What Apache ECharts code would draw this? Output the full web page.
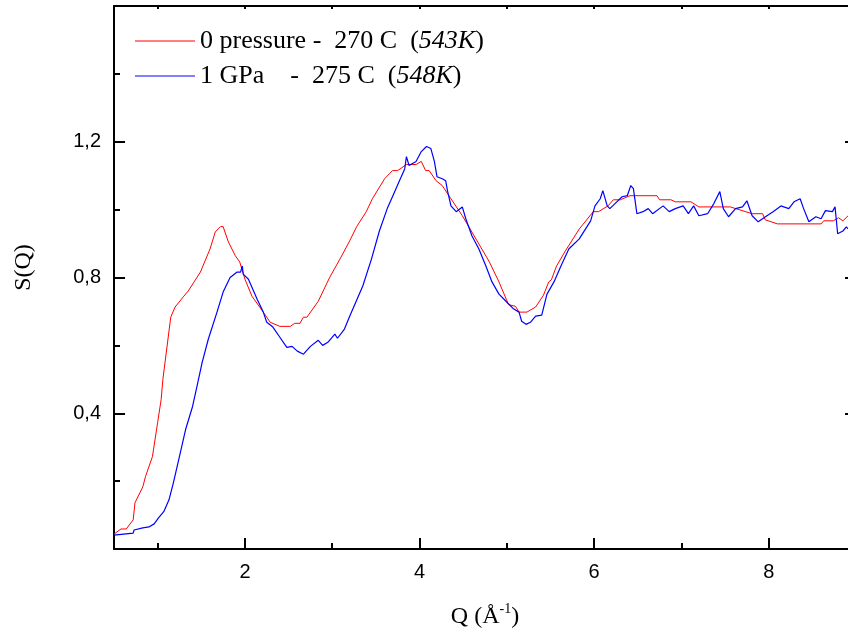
<!DOCTYPE html>
<html>
<head>
<meta charset="utf-8">
<script src="https://cdn.jsdelivr.net/npm/echarts@6/dist/echarts.min.js"></script>
<style>html,body{margin:0;padding:0;background:#fff;}#c{width:848px;height:636px;}</style>
</head>
<body>
<div id="c"></div>
<script>
const seriesNames = ['0 pressure -  270 C  (543K)', '1 GPa    -  275 C  (548K)'];
const legendRich = ['0 pressure -  270 C  ({i|543K})', '1 GPa    -  275 C  ({i|548K})'];

const qRed = [0.5,0.58,0.64,0.72,0.74,0.83,0.86,0.94,1.0,1.04,1.06,1.15,1.2,1.3,1.35,1.49,1.6,1.66,1.72,1.75,1.81,1.89,1.94,2.0,2.08,2.21,2.29,2.4,2.52,2.57,2.63,2.67,2.71,2.84,2.97,3.09,3.2,3.28,3.39,3.46,3.6,3.69,3.75,3.85,3.96,4.02,4.07,4.11,4.19,4.26,4.36,4.49,4.6,4.7,4.8,4.91,5.02,5.1,5.14,5.23,5.33,5.42,5.48,5.51,5.57,5.67,5.83,5.99,6.05,6.16,6.22,6.3,6.41,6.72,6.75,6.88,6.93,7.11,7.2,7.56,7.81,7.93,7.96,8.1,8.6,8.63,8.74,8.8,8.85,8.91,9.0];
const sRed = [0.044,0.059,0.059,0.086,0.136,0.183,0.213,0.272,0.373,0.44,0.5,0.683,0.713,0.745,0.76,0.816,0.884,0.934,0.95,0.95,0.905,0.864,0.846,0.795,0.745,0.698,0.668,0.656,0.656,0.665,0.665,0.683,0.683,0.73,0.8,0.855,0.908,0.95,0.994,1.032,1.091,1.115,1.115,1.133,1.133,1.142,1.115,1.115,1.085,1.071,1.032,0.982,0.934,0.89,0.846,0.787,0.72,0.715,0.698,0.698,0.713,0.748,0.787,0.793,0.834,0.878,0.943,0.994,0.994,1.011,1.029,1.029,1.041,1.041,1.029,1.029,1.023,1.023,1.008,1.008,0.988,0.988,0.97,0.958,0.958,0.967,0.967,0.976,0.967,0.982,0.985];

const qBlue = [0.5,0.72,0.73,0.83,0.9,0.96,1.01,1.07,1.13,1.18,1.26,1.32,1.4,1.46,1.51,1.58,1.68,1.75,1.83,1.91,1.95,1.97,1.98,2.04,2.14,2.21,2.25,2.32,2.4,2.48,2.54,2.6,2.67,2.75,2.84,2.89,2.95,3.03,3.06,3.14,3.2,3.35,3.45,3.54,3.63,3.69,3.77,3.83,3.85,3.88,3.96,4.02,4.08,4.13,4.17,4.2,4.26,4.3,4.32,4.36,4.42,4.49,4.53,4.6,4.68,4.76,4.83,4.91,4.99,5.08,5.14,5.17,5.22,5.27,5.33,5.4,5.46,5.54,5.62,5.71,5.83,5.96,6.01,6.07,6.1,6.15,6.18,6.26,6.32,6.38,6.42,6.45,6.49,6.56,6.62,6.67,6.79,6.86,6.93,7.02,7.08,7.14,7.2,7.3,7.37,7.44,7.48,7.54,7.62,7.7,7.75,7.81,7.88,7.98,8.05,8.14,8.23,8.29,8.36,8.4,8.46,8.54,8.6,8.65,8.73,8.76,8.79,8.85,8.89,8.91,9.0];
const sBlue = [0.041,0.047,0.056,0.062,0.065,0.074,0.092,0.11,0.145,0.195,0.284,0.352,0.42,0.49,0.55,0.618,0.698,0.757,0.8,0.816,0.816,0.834,0.81,0.795,0.736,0.698,0.668,0.654,0.624,0.594,0.597,0.583,0.574,0.597,0.615,0.6,0.609,0.633,0.621,0.648,0.686,0.775,0.855,0.937,1.003,1.038,1.085,1.12,1.156,1.13,1.142,1.171,1.186,1.18,1.142,1.097,1.091,1.085,1.056,1.011,0.994,1.008,0.973,0.923,0.884,0.834,0.787,0.751,0.73,0.707,0.698,0.671,0.662,0.668,0.686,0.689,0.751,0.787,0.834,0.884,0.914,0.967,1.011,1.032,1.056,1.011,1.003,1.023,1.038,1.041,1.071,1.062,0.988,0.994,1.003,0.988,1.011,0.994,1.003,1.011,0.988,1.011,0.982,0.988,1.017,1.053,1.003,0.979,1.003,1.008,1.026,0.982,0.964,0.982,0.994,1.011,1.003,1.023,1.032,1.003,0.964,0.979,0.973,0.997,0.994,1.008,0.929,0.937,0.949,0.943,0.95];

const xTickLabels = ['2','4','6','8'];
const yTickLabels = ['0,4','0,8','1,2'];

const zip = (a, b) => a.map((v, i) => [v, b[i]]);

const serif = 'Liberation Serif';
const sans = 'Liberation Sans';

const chart = echarts.init(document.getElementById('c'), null, {renderer: 'canvas'});
const axisLine = {show: true, onZero: false, lineStyle: {color: '#000', width: 2}};

chart.setOption({
  animation: false,
  backgroundColor: '#fff',
  grid: {left: 114, top: 6, width: 742, height: 543, containLabel: false, outerBoundsMode: 'none'},
  legend: {
    orient: 'vertical', left: 135, top: 27, padding: 0, itemWidth: 60, itemHeight: 1, itemGap: 7,
    icon: 'rect',
    data: seriesNames,
    formatter: function (name) { return legendRich[seriesNames.indexOf(name)]; },
    textStyle: {fontFamily: serif, fontSize: 26, color: '#000', lineHeight: 28,
      rich: {i: {fontFamily: serif, fontSize: 26, fontStyle: 'italic', color: '#000'}}}
  },
  xAxis: [{
    type: 'value', min: 0.5, max: 9, splitNumber: 5, minInterval: 2, maxInterval: 2,
    position: 'bottom',
    name: '{a|Q (Å}{s|-1}{a|)}', nameLocation: 'middle', nameGap: 53,
    nameTextStyle: {rich: {
      a: {fontFamily: serif, fontSize: 24, color: '#000', lineHeight: 30},
      s: {fontFamily: serif, fontSize: 14, color: '#000', verticalAlign: 'top', lineHeight: 14}
    }},
    axisLine: axisLine,
    axisTick: {show: true, inside: true, length: 11, lineStyle: {color: '#000', width: 2}},
    minorTick: {show: true, splitNumber: 2, length: 6, lineStyle: {color: '#000', width: 2}},
    axisLabel: {show: true, margin: 13, showMinLabel: false, showMaxLabel: false,
      fontFamily: sans, fontSize: 20, color: '#000',
      formatter: function (v) { const s = String(Math.round(v)); return (Math.abs(v - Math.round(v)) < 1e-6 && xTickLabels.indexOf(s) >= 0) ? s : ''; }},
    splitLine: {show: false}
  }, {
    type: 'value', min: 0.5, max: 9, splitNumber: 5, minInterval: 2, maxInterval: 2,
    position: 'top',
    axisLine: axisLine,
    axisTick: {show: true, inside: true, length: 3, lineStyle: {color: '#000', width: 2}},
    minorTick: {show: true, splitNumber: 2, length: 3, lineStyle: {color: '#000', width: 2}},
    axisLabel: {show: false},
    splitLine: {show: false}
  }],
  yAxis: [{
    type: 'value', min: 0, max: 1.6, interval: 0.4,
    position: 'left',
    name: 'S(Q)', nameLocation: 'middle', nameGap: 78, nameRotate: 90,
    nameTextStyle: {fontFamily: serif, fontSize: 24, color: '#000', padding: [0, 0, 0, 20]},
    axisLine: axisLine,
    axisTick: {show: true, inside: true, length: 11, lineStyle: {color: '#000', width: 2}},
    minorTick: {show: true, splitNumber: 2, length: 6, lineStyle: {color: '#000', width: 2}},
    axisLabel: {show: true, margin: 13, fontFamily: sans, fontSize: 20, color: '#000',
      formatter: function (v) { const s = v.toFixed(1).replace('.', ','); return yTickLabels.indexOf(s) >= 0 ? s : ''; }},
    splitLine: {show: false}
  }, {
    type: 'value', min: 0, max: 1.6, interval: 0.4,
    position: 'right',
    axisLine: axisLine,
    axisTick: {show: true, inside: true, length: 11, lineStyle: {color: '#000', width: 2}},
    minorTick: {show: true, splitNumber: 2, length: 6, lineStyle: {color: '#000', width: 2}},
    axisLabel: {show: false},
    splitLine: {show: false}
  }],
  series: [{
    name: seriesNames[0], type: 'line', data: zip(qRed, sRed),
    showSymbol: false, symbol: 'none', smooth: false,
    lineStyle: {color: '#ff0000', width: 1}, itemStyle: {color: '#ff0000'}
  }, {
    name: seriesNames[1], type: 'line', data: zip(qBlue, sBlue),
    showSymbol: false, symbol: 'none', smooth: false,
    lineStyle: {color: '#0000ff', width: 1.2}, itemStyle: {color: '#0000ff'}
  }]
});
</script>
</body>
</html>
